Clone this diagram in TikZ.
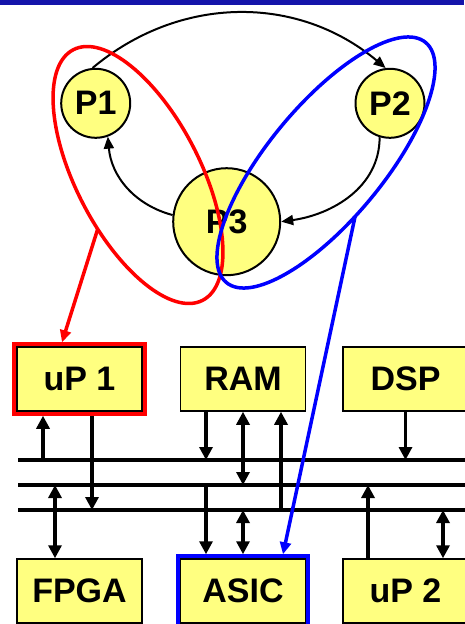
\documentclass[tikz,border=0pt]{standalone}
\usepackage{fontspec}
\setmainfont{Liberation Sans}
\usetikzlibrary{positioning,arrows.meta,shapes.geometric,fit}
\definecolor{unitfill}{RGB}{255,255,128}
\definecolor{topband}{RGB}{20,20,170}
\tikzset{
  proc/.style={circle,draw,fill=unitfill,line width=2pt,inner sep=0pt,font=\bfseries\fontsize{34}{38}\selectfont},
  unit/.style={rectangle,draw,fill=unitfill,line width=1.5pt,minimum width=125pt,minimum height=64pt,inner sep=0pt,font=\bfseries\fontsize{34}{38}\selectfont},
  flow/.style={line width=2pt,-{Triangle[length=12pt,width=10pt]}},
  bus/.style={line width=3.2pt},
  grp/.style={ellipse,line width=3.5pt,inner sep=0pt,outer sep=0pt},
  hot/.style={rectangle,line width=4pt,inner sep=2pt},
  map/.style={line width=3.5pt,-{Triangle[length=12pt,width=11pt]}}
}
\begin{document}
\begin{tikzpicture}[x=1pt,y=1pt,>={Triangle[length=13pt,width=13pt]}]
\useasboundingbox (0,0) rectangle (464,-624);
\fill[topband] (0,0) rectangle (464,-4.5);

\node[proc,minimum size=69] (P1) at (95.7,-103.3) {P1};
\node[proc,minimum size=69] (P2) at (390,-103.3) {P2};
\node[proc,minimum size=107] (P3) at (226.7,-221.7) {P3};
\draw[flow] (P1.95) to[out=40,in=140] (P2.97);
\draw[flow] (P3.173) to[out=165,in=-85] (P1.-70);
\draw[flow] (P2.-107) to[out=-90,in=8] (P3.east);

\node[grp,draw=red,minimum width=282,minimum height=124,rotate=-62.7] (grpA) at (138,-175) {};
\node[grp,draw=blue,minimum width=312,minimum height=115,rotate=50.3] (grpB) at (326,-162.5) {};

\node[unit] (up1) at (79.5,-379) {uP 1};
\node[unit] (ram) at (243,-379) {RAM};
\node[unit] (dsp) at (405.5,-379) {DSP};
\node[unit] (fpga) at (79.5,-591) {FPGA};
\node[unit] (asic) at (243,-591) {ASIC};
\node[unit] (up2) at (405.5,-591) {uP 2};
\node[hot,draw=red,fit=(up1)] (up1f) {};
\node[hot,draw=blue,fit=(asic)] (asicf) {};

\coordinate (busA-w) at (18,-460);  \coordinate (busA-e) at (470,-460);
\coordinate (busB-w) at (18,-485);  \coordinate (busB-e) at (470,-485);
\coordinate (busC-w) at (18,-510);  \coordinate (busC-e) at (470,-510);
\draw[bus] (busA-w) -- (busA-e);
\draw[bus] (busB-w) -- (busB-e);
\draw[bus] (busC-w) -- (busC-e);

\draw[bus,->] ([xshift=-36.5]up1f.south |- busA-w) -- ([xshift=-36.5]up1f.south);
\draw[bus,->] ([xshift=12.5]up1f.south) -- ([xshift=12.5]up1f.south |- busC-w);
\draw[bus,<->] ([xshift=-24.5]fpga.north |- busB-w) -- ([xshift=-24.5]fpga.north);
\draw[bus,->] ([xshift=-37]ram.south) -- ([xshift=-37]ram.south |- busA-w);
\draw[bus,<->] (ram.south) -- (ram.south |- busB-w);
\draw[bus,->] ([xshift=38]ram.south |- busC-w) -- ([xshift=38]ram.south);
\draw[bus,->] ([xshift=-37]asicf.north |- busB-w) -- ([xshift=-37]asicf.north);
\draw[bus,<->] (asicf.north |- busC-w) -- (asicf.north);
\draw[bus,->] (dsp.south) -- (dsp.south |- busA-w);
\draw[bus,->] ([xshift=-37.5]up2.north) -- ([xshift=-37.5]up2.north |- busB-w);
\draw[bus,<->] ([xshift=37.5]up2.north |- busC-w) -- ([xshift=37.5]up2.north);

\draw[map,red] (grpA.-64) -- ([xshift=-17.5]up1f.north);
\draw[map,blue] (grpB.-112) -- ([xshift=40]asicf.north);
\end{tikzpicture}
\end{document}
